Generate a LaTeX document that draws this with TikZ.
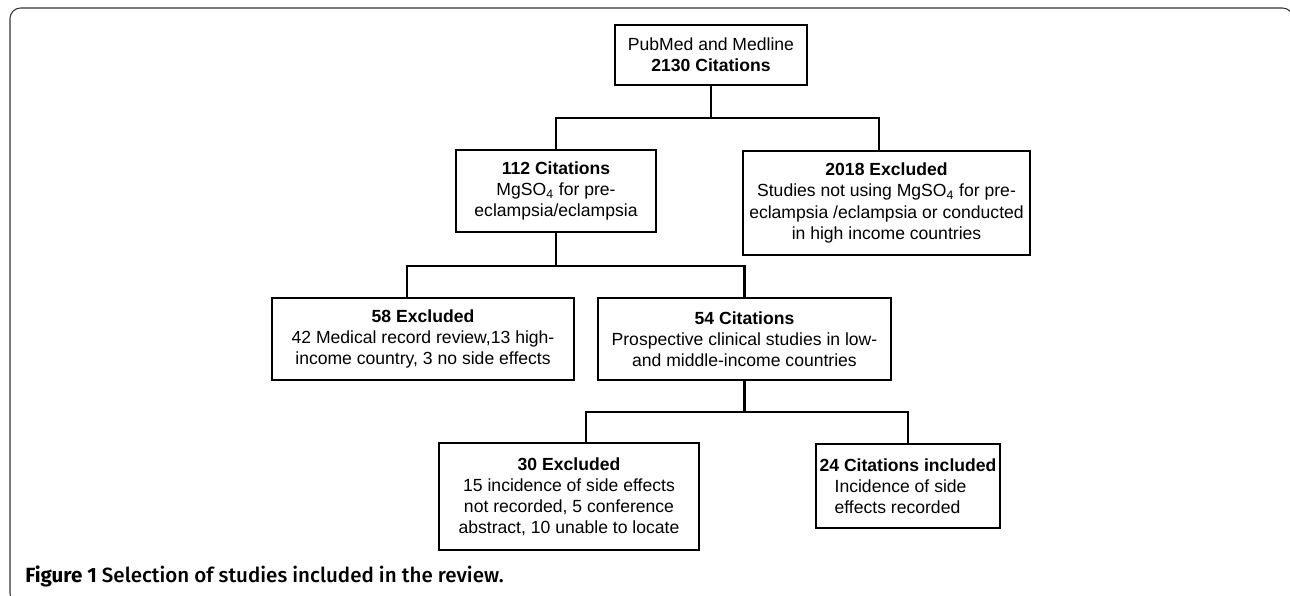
\documentclass[tikz,border=0pt]{standalone}
\usepackage{fontspec}
\setmainfont{Liberation Sans}
\newfontfamily\capfont{Fira Sans Medium}[BoldFont={Fira Sans Bold}]
\usetikzlibrary{calc}

\begin{document}
\begin{tikzpicture}[x=0.2mm,y=-0.2mm,
  box/.style={draw,line width=1.2pt,align=center,inner sep=0pt},
  link/.style={line width=1.2pt}]
\useasboundingbox (0,0) rectangle (1290,596);
% outer frame
\draw[gray!40!black,line width=0.6pt,rounded corners=6pt] (10,8) rectangle (1293,604);

\node[box,minimum width=38.4mm,minimum height=12mm] (pubmed) at (711,55)
  {PubMed and Medline\\\textbf{2130 Citations}};
\node[box,minimum width=40mm,minimum height=16.4mm] (cit112) at (556,191)
  {\textbf{112 Citations}\\MgSO\textsubscript{4} for pre-\\eclampsia/eclampsia};
\node[box,minimum width=57.4mm,minimum height=20.8mm] (exc2018) at (886.5,203)
  {\textbf{2018 Excluded}\\Studies not using MgSO\textsubscript{4} for pre-\\eclampsia /eclampsia or conducted\\in high income countries};
\node[box,minimum width=60.4mm,minimum height=16.4mm] (exc58) at (423,339)
  {\textbf{58 Excluded}\\42 Medical record review,13 high-\\income country, 3 no side effects};
\node[box,minimum width=58.6mm,minimum height=16.4mm] (cit54) at (744.5,339)
  {\textbf{54 Citations}\\Prospective clinical studies in low-\\and middle-income countries};
\node[box,minimum width=52mm,minimum height=21.4mm] (exc30) at (569,496.5)
  {\textbf{30 Excluded}\\15 incidence of side effects\\not recorded, 5 conference\\abstract, 10 unable to locate};
\node[box,align=left,minimum width=36.9mm,minimum height=16.8mm] (inc24) at (908,486)
  {\textbf{24 Citations included}\\\hspace*{3mm}Incidence of side\\\hspace*{3mm}effects recorded};

% connectors
\draw[link] (pubmed.south) -- ++(0,32) coordinate (j1);
\draw[link] (cit112.north) |- (j1) -| ($(exc2018.north)+(-7.5,0)$);
\draw[link] (cit112.south) -- ++(0,33) coordinate (j2);
\draw[link] ($(exc58.north)+(-16,0)$) |- (j2) -| (cit54.north);
\draw[link] (cit54.south) -- ++(0,31) coordinate (j3);
\draw[link] ($(exc30.north)+(17,0)$) |- (j3) -| (inc24.north);

\node[anchor=base west,inner sep=0pt] (caption) at (25,583)
  {\capfont\fontsize{11.7pt}{14pt}\selectfont\textbf{Figure 1} Selection of studies included in the review.};
\end{tikzpicture}
\end{document}
